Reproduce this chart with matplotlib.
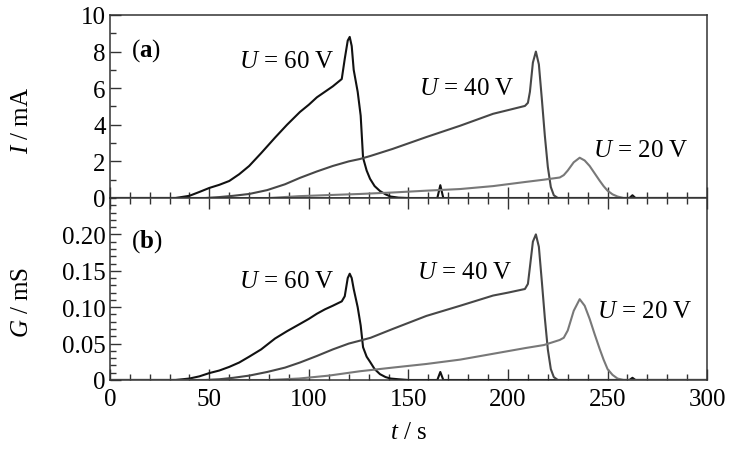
import numpy as np
import matplotlib
matplotlib.use("Agg")
import matplotlib.pyplot as plt
from matplotlib.ticker import MultipleLocator, FixedLocator

plt.rcParams['font.family'] = ['Liberation Serif', 'DejaVu Serif']
plt.rcParams['mathtext.fontset'] = 'custom'
plt.rcParams['mathtext.rm'] = 'Liberation Serif'
plt.rcParams['mathtext.it'] = 'Liberation Serif:italic'
plt.rcParams['mathtext.bf'] = 'Liberation Serif:bold'

# U = 60 V (current in mA, conductance in mS)
t60 = [0, 33, 40, 45, 50, 55, 60, 65, 70, 76, 83, 89, 95.5, 100, 104, 108, 112, 116.5, 118,
       119.5, 120.5, 121.5, 122.5, 124.5, 126, 127.2, 129, 130.7, 133, 135.7, 138.5, 141, 145, 150,
       164.5, 166, 167.5, 261, 262.5, 264, 300]
i60 = [0, 0, 0.12, 0.33, 0.55, 0.72, 0.93, 1.3, 1.75, 2.45, 3.3, 4.0, 4.7, 5.1, 5.5, 5.8, 6.1, 6.5, 7.6,
       8.6, 8.8, 8.3, 7.0, 5.8, 4.5, 2.2, 1.5, 1.05, 0.65, 0.38, 0.2, 0.08, 0.02, 0,
       0, 0.7, 0, 0, 0.15, 0, 0]
g60 = [0, 0, 0.002, 0.005, 0.0095, 0.013, 0.018, 0.024, 0.032, 0.042, 0.057, 0.067, 0.077, 0.084, 0.091, 0.097, 0.102, 0.108, 0.115,
       0.14, 0.146, 0.14, 0.125, 0.1, 0.075, 0.045, 0.032, 0.025, 0.015, 0.008, 0.004, 0.002, 0.001, 0,
       0, 0.011, 0, 0, 0.003, 0, 0]

# U = 40 V
t40 = [0, 48, 55, 62, 70, 79, 88, 95.5, 104, 112, 120, 125.6, 131, 142, 159, 176, 192.5, 200,
       208.5, 210, 211, 212.5, 214, 215.5, 217, 218.5, 220, 221.5, 223, 225, 300]
i40 = [0, 0, 0.05, 0.12, 0.22, 0.43, 0.75, 1.1, 1.45, 1.75, 2.0, 2.13, 2.3, 2.68, 3.33, 3.95, 4.6, 4.8,
       5.03, 5.2, 5.8, 7.4, 8.0, 7.3, 5.4, 3.4, 1.7, 0.6, 0.15, 0, 0]
g40 = [0, 0, 0.001, 0.003, 0.006, 0.011, 0.017, 0.024, 0.033, 0.042, 0.05, 0.054, 0.058, 0.070, 0.088, 0.102, 0.116, 0.12,
       0.125, 0.132, 0.155, 0.19, 0.2, 0.183, 0.135, 0.085, 0.042, 0.015, 0.004, 0, 0]

# U = 20 V
t20 = [0, 80, 95, 110, 125.6, 142, 159, 176, 192.5, 209, 218, 226, 228, 230, 233, 236, 238.5,
       241, 243.5, 246, 248, 250, 252.5, 255, 258, 300]
i20 = [0, 0, 0.1, 0.16, 0.22, 0.3, 0.4, 0.49, 0.65, 0.88, 1.0, 1.12, 1.25, 1.5, 1.95, 2.2, 2.05,
       1.75, 1.35, 0.95, 0.65, 0.4, 0.2, 0.08, 0, 0]
g20 = [0, 0, 0.002, 0.006, 0.012, 0.017, 0.022, 0.028, 0.036, 0.044, 0.048, 0.055, 0.058, 0.068, 0.095, 0.111, 0.102,
       0.084, 0.063, 0.043, 0.028, 0.015, 0.007, 0.002, 0, 0]

series = [
    (t60, i60, g60, '#111111'),
    (t40, i40, g40, '#474747'),
    (t20, i20, g20, '#787878'),
]

fig = plt.figure(figsize=(7.32, 4.56), dpi=100)
ax1 = fig.add_axes([0.150, 0.5636, 0.816, 0.4014])
ax2 = fig.add_axes([0.150, 0.1645, 0.816, 0.3991])

for t, i, g, c in series:
    ax1.plot(t, i, color=c, lw=1.5)
    ax2.plot(t, g, color=c, lw=1.5)

for ax in (ax1, ax2):
    ax.set_xlim(0, 300)
    ax.xaxis.set_major_locator(MultipleLocator(50))
    ax.xaxis.set_minor_locator(MultipleLocator(10))
    for s in ax.spines.values():
        s.set_linewidth(1.1)
        s.set_color('#333333')
    ax.tick_params(which='both', direction='in', color='#333333', labelsize=18, width=1.0)
    ax.tick_params(which='major', length=8)
    ax.tick_params(which='minor', length=4)
    ax.tick_params(axis='y', left=True, right=False, pad=3)

ax1.set_ylim(0, 10)
ax1.yaxis.set_major_locator(MultipleLocator(2))
ax1.yaxis.set_minor_locator(MultipleLocator(1))
ax1.tick_params(axis='x', which='both', bottom=True, top=False, labelbottom=False)

ax2.set_ylim(0, 0.25)
ax2.yaxis.set_major_locator(FixedLocator([0, 0.05, 0.10, 0.15, 0.20]))
ax2.yaxis.set_minor_locator(MultipleLocator(0.01))
ax2.set_yticklabels(['0', '0.05', '0.10', '0.15', '0.20'])
ax2.tick_params(axis='x', which='both', bottom=True, top=True, labelbottom=True, pad=6)

ax1.set_ylabel('$I$ / mA', fontsize=18)
ax2.set_ylabel('$G$ / mS', fontsize=18)
ax1.yaxis.set_label_coords(-0.128, 0.43)
ax2.yaxis.set_label_coords(-0.128, 0.43)
ax2.set_xlabel('$t$ / s', fontsize=18, labelpad=8)

# annotations
ax1.text(10.5, 8.1, r'($\mathbf{a}$)', fontsize=18, va='center', ha='left')
ax1.text(65, 7.5, '$U$ = 60 V', fontsize=18, va='center', ha='left')
ax1.text(155.5, 6.0, '$U$ = 40 V', fontsize=18, va='center', ha='left')
ax1.text(242.5, 2.6, '$U$ = 20 V', fontsize=18, va='center', ha='left')

ax2.text(10.5, 0.191, r'($\mathbf{b}$)', fontsize=18, va='center', ha='left')
ax2.text(65, 0.136, '$U$ = 60 V', fontsize=18, va='center', ha='left')
ax2.text(154.5, 0.149, '$U$ = 40 V', fontsize=18, va='center', ha='left')
ax2.text(244.5, 0.095, '$U$ = 20 V', fontsize=18, va='center', ha='left')

fig.savefig('out.png', dpi=100)
